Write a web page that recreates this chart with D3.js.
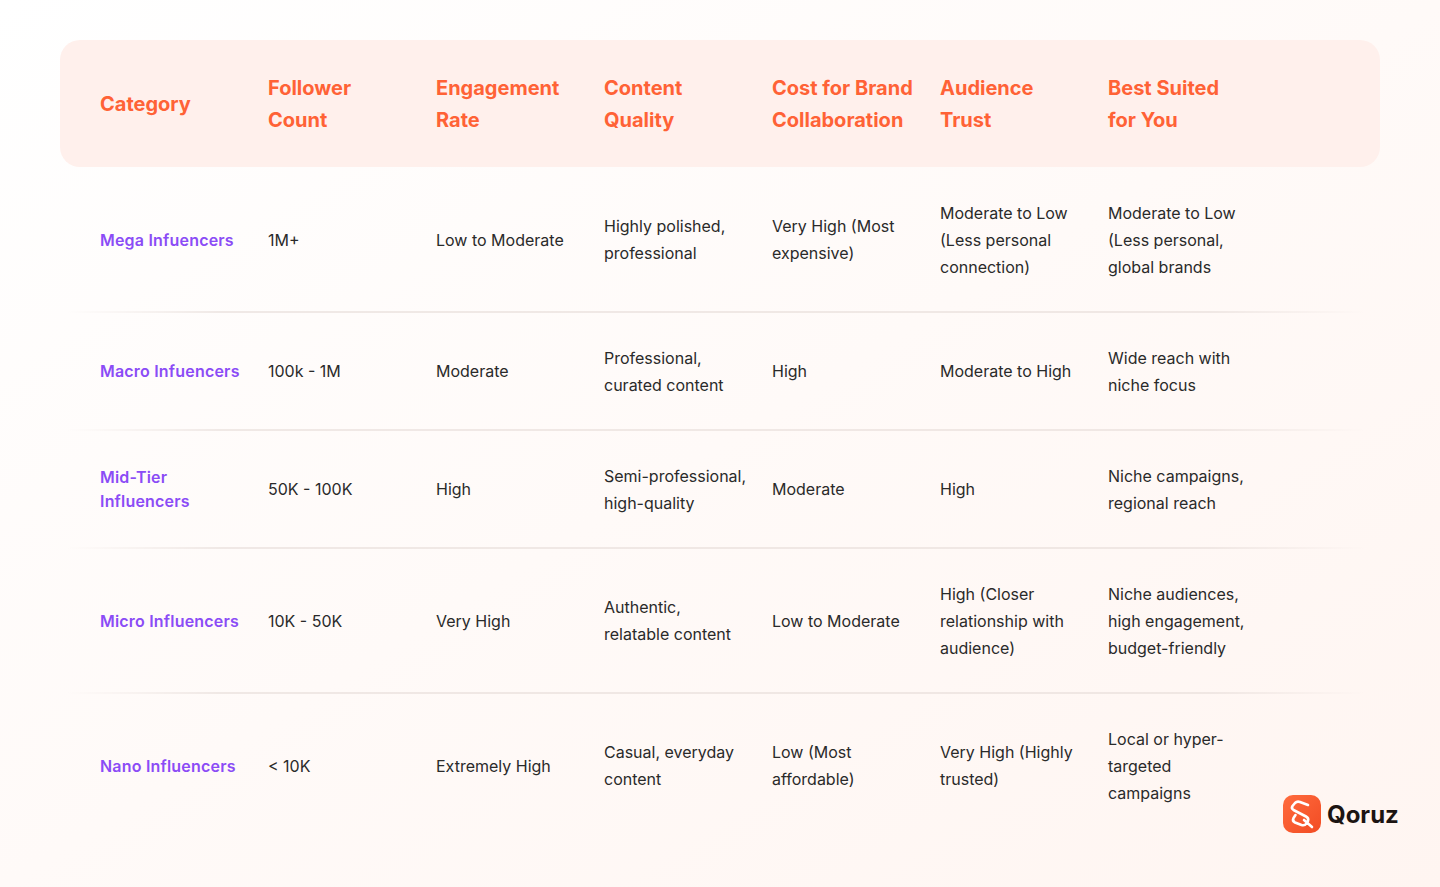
<!DOCTYPE html>
<html>
<head>
<meta charset="utf-8">
<script src="https://cdn.jsdelivr.net/npm/d3@7"></script>
<style>
  html, body { margin: 0; padding: 0; }
  body { width: 1440px; height: 887px; overflow: hidden; font-family: Inter, "Noto Sans", sans-serif; }
</style>
</head>
<body>
<svg id="chart" width="1440" height="887"></svg>
<script>
// table content, one cell = list of wrapped lines
var headers = [
  ["Category"], ["Follower", "Count"], ["Engagement", "Rate"], ["Content", "Quality"],
  ["Cost for Brand", "Collaboration"], ["Audience", "Trust"], ["Best Suited", "for You"]
];
var categories = [
  ["Mega Infuencers"], ["Macro Infuencers"], ["Mid-Tier", "Influencers"],
  ["Micro Influencers"], ["Nano Influencers"]
];
var followerCount = [["1M+"], ["100k - 1M"], ["50K - 100K"], ["10K - 50K"], ["< 10K"]];
var engagementRate = [["Low to Moderate"], ["Moderate"], ["High"], ["Very High"], ["Extremely High"]];
var contentQuality = [
  ["Highly polished,", "professional"], ["Professional,", "curated content"],
  ["Semi-professional,", "high-quality"], ["Authentic,", "relatable content"],
  ["Casual, everyday", "content"]
];
var brandCost = [
  ["Very High (Most", "expensive)"], ["High"], ["Moderate"], ["Low to Moderate"],
  ["Low (Most", "affordable)"]
];
var audienceTrust = [
  ["Moderate to Low", "(Less personal", "connection)"], ["Moderate to High"], ["High"],
  ["High (Closer", "relationship with", "audience)"], ["Very High (Highly", "trusted)"]
];
var bestSuited = [
  ["Moderate to Low", "(Less personal,", "global brands"], ["Wide reach with", "niche focus"],
  ["Niche campaigns,", "regional reach"], ["Niche audiences,", "high engagement,", "budget-friendly"],
  ["Local or hyper-", "targeted", "campaigns"]
];

var columns = [categories, followerCount, engagementRate, contentQuality, brandCost, audienceTrust, bestSuited];

var svg = d3.select("#chart");
var W = 1440, H = 887;

var defs = svg.append("defs");
var bg = defs.append("linearGradient").attr("id", "bg")
  .attr("x1", "0").attr("y1", "0").attr("x2", "1").attr("y2", "1");
bg.append("stop").attr("offset", "0").attr("stop-color", "#ffffff");
bg.append("stop").attr("offset", "1").attr("stop-color", "#fff5f1");

var lineGrad = defs.append("linearGradient").attr("id", "rule")
  .attr("x1", "0").attr("y1", "0").attr("x2", "1").attr("y2", "0");
lineGrad.append("stop").attr("offset", "0").attr("stop-color", "#e6dcd8").attr("stop-opacity", 0);
lineGrad.append("stop").attr("offset", "0.12").attr("stop-color", "#e6dcd8").attr("stop-opacity", 1);
lineGrad.append("stop").attr("offset", "0.88").attr("stop-color", "#e6dcd8").attr("stop-opacity", 1);
lineGrad.append("stop").attr("offset", "1").attr("stop-color", "#e6dcd8").attr("stop-opacity", 0);

var logoGrad = defs.append("linearGradient").attr("id", "logo")
  .attr("x1", "0").attr("y1", "0").attr("x2", "1").attr("y2", "1");
logoGrad.append("stop").attr("offset", "0").attr("stop-color", "#ff6b3d");
logoGrad.append("stop").attr("offset", "1").attr("stop-color", "#f24c24");

svg.append("rect").attr("width", W).attr("height", H).attr("fill", "url(#bg)");

// column positions
var x = d3.scaleLinear().domain([0, 1]).range([100, 268]);

// header
var headTop = 40, headBottom = 167;
svg.append("rect")
  .attr("x", 60).attr("y", headTop).attr("width", 1320).attr("height", headBottom - headTop)
  .attr("rx", 20).attr("fill", "#fff0ec");

var headLH = 32, headMid = (headTop + headBottom) / 2;
svg.append("g").selectAll("text").data(headers).join("text")
  .attr("x", function(d, i) { return x(i); })
  .attr("font-size", 20).attr("font-weight", 700).attr("fill", "#ff6236")
  .each(function(lines) {
    var t = d3.select(this);
    var y0 = headMid - (lines.length - 1) * headLH / 2 + 7;
    lines.forEach(function(l, k) {
      t.append("tspan").attr("x", t.attr("x")).attr("y", y0 + k * headLH).text(l);
    });
  });

// rows: height depends on the tallest cell
var bodyLH = 27;
var rowLines = categories.map(function(_, r) {
  return d3.max(columns, function(c) { return c[r].length; });
});
var rowTops = [];
var acc = headBottom;
rowLines.forEach(function(n) { rowTops.push(acc); acc += 64 + n * bodyLH; });
var rowH = rowLines.map(function(n) { return 64 + n * bodyLH; });

var rows = svg.append("g").selectAll("g").data(categories).join("g")
  .attr("transform", function(d, r) { return "translate(0," + (rowTops[r] + rowH[r] / 2) + ")"; });

// separators
rows.filter(function(d, r) { return r < categories.length - 1; })
  .append("rect")
  .attr("x", 66).attr("width", 1300).attr("height", 1.2)
  .attr("y", function(d, r) { return rowH[r] / 2 - 0.6; })
  .attr("fill", "url(#rule)");

rows.each(function(_, r) {
  var g = d3.select(this);
  columns.forEach(function(col, c) {
    var lines = col[r];
    var isCat = c === 0;
    var lh = isCat ? 24 : bodyLH;
    var t = g.append("text")
      .attr("x", x(c))
      .attr("font-size", 16)
      .attr("font-weight", isCat ? 600 : 400)
      .attr("letter-spacing", isCat ? 0.2 : 0)
      .attr("fill", isCat ? "#8b4cf6" : "#2a2a2a");
    var y0 = -(lines.length - 1) * lh / 2 + 6;
    lines.forEach(function(l, k) {
      t.append("tspan").attr("x", x(c)).attr("y", y0 + k * lh).text(l);
    });
  });
});

// logo
var logo = svg.append("g").attr("transform", "translate(1283,795)");
logo.append("rect").attr("width", 38).attr("height", 38).attr("rx", 10).attr("fill", "url(#logo)");
logo.append("path")
  .attr("d", "M25 10 L17 7 Q14 6 12 8 L9.5 11 Q8 13.5 10.5 15 L23 21.5 Q26 23 25 26 L23.5 28.5 Q21.5 31 18.5 30 L12 27.5 Q9 26 10.5 23 L12.5 20 M21 25 L29 32")
  .attr("fill", "none").attr("stroke", "#fff").attr("stroke-width", 2.6)
  .attr("stroke-linecap", "round").attr("stroke-linejoin", "round");
svg.append("text").attr("x", 1327).attr("y", 823)
  .attr("font-size", 24).attr("font-weight", 700).attr("fill", "#1c1412")
  .text("Qoruz");
</script>
</body>
</html>
